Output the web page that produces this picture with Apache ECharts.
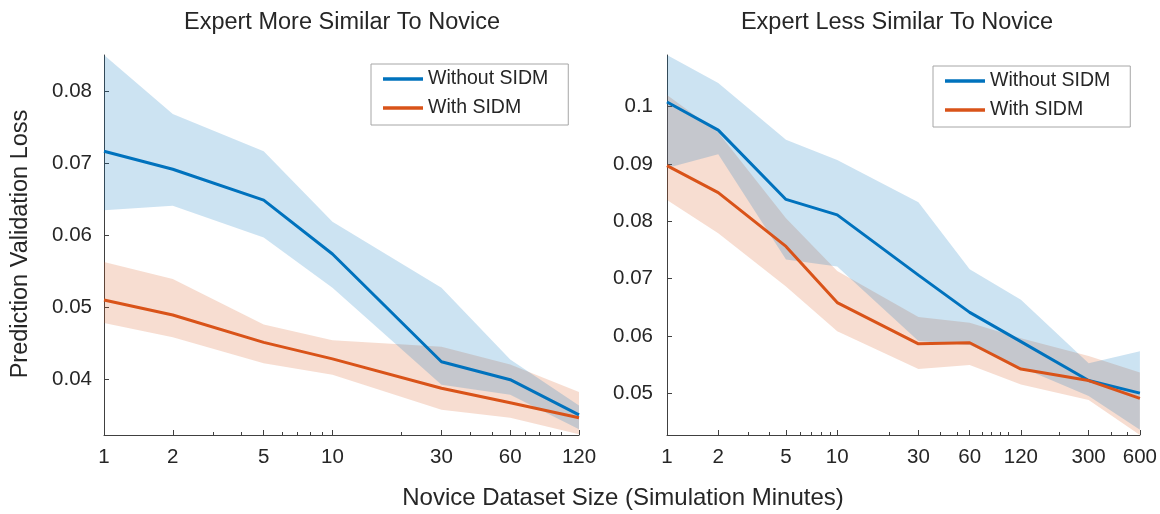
<!DOCTYPE html>
<html>
<head>
<meta charset="utf-8">
<script src="https://cdn.jsdelivr.net/npm/echarts@6/dist/echarts.min.js"></script>
<style>
  html, body { margin: 0; padding: 0; background: #fff; }
  #chart { width: 1160px; height: 514px; }
</style>
</head>
<body>
<div id="chart"></div>
<script>
// ---- Data ----
const xLeft = [1, 2, 5, 10, 30, 60, 120];
const withoutMeanL  = [0.0717, 0.0692, 0.0649, 0.0574, 0.0424, 0.0399, 0.0350];
const withoutUpperL = [0.0851, 0.0769, 0.0717, 0.0619, 0.0527, 0.0427, 0.0363];
const withoutLowerL = [0.0635, 0.0641, 0.0597, 0.0527, 0.0392, 0.0378, 0.0330];
const withMeanL     = [0.0510, 0.0489, 0.0451, 0.0428, 0.0387, 0.0367, 0.0346];
const withUpperL    = [0.0563, 0.0539, 0.0476, 0.0454, 0.0445, 0.0420, 0.0382];
const withLowerL    = [0.0478, 0.0458, 0.0422, 0.0406, 0.0357, 0.0346, 0.0323];

const xRight = [1, 2, 5, 10, 30, 60, 120, 300, 600];
const withoutMeanR  = [0.1008, 0.0959, 0.0838, 0.0811, 0.0706, 0.0641, 0.0590, 0.0522, 0.0500];
const withoutUpperR = [0.1090, 0.1041, 0.0942, 0.0907, 0.0833, 0.0716, 0.0663, 0.0552, 0.0573];
const withoutLowerR = [0.0893, 0.0917, 0.0733, 0.0721, 0.0591, 0.0584, 0.0545, 0.0495, 0.0436];
const withMeanR     = [0.0897, 0.0850, 0.0756, 0.0658, 0.0586, 0.0588, 0.0542, 0.0522, 0.0491];
const withUpperR    = [0.1020, 0.0955, 0.0805, 0.0713, 0.0633, 0.0623, 0.0596, 0.0565, 0.0536];
const withLowerR    = [0.0837, 0.0779, 0.0686, 0.0608, 0.0542, 0.0549, 0.0515, 0.0488, 0.0427];

// Tick values
const xMajorL = [1, 2, 5, 10, 30, 60, 120];
const xMinorL = [3, 4, 6, 7, 8, 9, 20, 40, 50, 70, 80, 90, 100];
const xMajorR = [1, 2, 5, 10, 30, 60, 120, 300, 600];
const xMinorR = [3, 4, 6, 7, 8, 9, 20, 40, 50, 70, 80, 90, 100, 200, 400, 500];
const yTicksL = [0.04, 0.05, 0.06, 0.07, 0.08];
const yTicksR = [0.05, 0.06, 0.07, 0.08, 0.09, 0.1];

const titles = ['Expert More Similar To Novice', 'Expert Less Similar To Novice'];
const xTitle = 'Novice Dataset Size (Simulation Minutes)';
const yTitle = 'Prediction Validation Loss';
const seriesNames = ['Without SIDM', 'With SIDM'];

// ---- Styling ----
const FONT = '"Liberation Sans", Arial, Helvetica, sans-serif';
const BLUE = '#0072BD', ORANGE = '#D95319';
const BLUE_FILL = 'rgba(0,114,189,0.2)', ORANGE_FILL = 'rgba(217,83,25,0.2)';
const AXIS = '#404040', TEXT = '#262626';

const grids = [
  { left: 104, right: 581, top: 55, bottom: 79 },
  { left: 667, right: 19, top: 55, bottom: 79 },
  { left: 104, right: 581, top: 55, bottom: 79 },
  { left: 667, right: 19, top: 55, bottom: 79 }
];

function majorX(gridIndex, max, ticks) {
  return {
    gridIndex, type: 'log', logBase: 10, min: 1, max,
    axisLine: { show: true, lineStyle: { color: AXIS, width: 1 } },
    axisTick: { show: true, inside: true, length: 5, customValues: ticks, lineStyle: { color: AXIS } },
    axisLabel: { customValues: ticks, formatter: v => String(Math.round(v)), fontSize: 20.5, fontFamily: FONT, color: TEXT, margin: 12 },
    splitLine: { show: false }, minorTick: { show: false }
  };
}
function minorX(gridIndex, max, ticks) {
  return {
    gridIndex, type: 'log', logBase: 10, min: 1, max,
    axisLine: { show: false },
    axisTick: { show: true, inside: true, length: 3, customValues: ticks, lineStyle: { color: AXIS } },
    axisLabel: { show: false, customValues: ticks },
    splitLine: { show: false }
  };
}
function mainY(gridIndex, min, max, ticks, margin) {
  return {
    gridIndex, type: 'value', min, max,
    axisLine: { show: true, lineStyle: { color: AXIS, width: 1 } },
    axisTick: { show: true, inside: true, length: 5, customValues: ticks, lineStyle: { color: AXIS } },
    axisLabel: { customValues: ticks, formatter: v => String(v), fontSize: 20.5, fontFamily: FONT, color: TEXT, margin },
    splitLine: { show: false }
  };
}
function hiddenY(gridIndex, min, max) {
  return { gridIndex, type: 'value', min, max, show: false, splitLine: { show: false } };
}

function band(name, axisIdx, xs, upper, lower, fill) {
  return {
    type: 'custom', name, xAxisIndex: axisIdx, yAxisIndex: axisIdx, silent: true, clip: true,
    data: [[xs[0], upper[0]]],
    encode: { x: 0, y: 1 },
    renderItem: function (params, api) {
      const pts = [];
      for (let i = 0; i < xs.length; i++) pts.push(api.coord([xs[i], upper[i]]));
      for (let i = xs.length - 1; i >= 0; i--) pts.push(api.coord([xs[i], lower[i]]));
      return { type: 'polygon', shape: { points: pts }, style: { fill, stroke: null } };
    },
    z: 1
  };
}
function line(name, axisIdx, xs, ys, color) {
  return {
    type: 'line', name, xAxisIndex: axisIdx, yAxisIndex: axisIdx,
    data: xs.map((x, i) => [x, ys[i]]),
    symbol: 'none', showSymbol: false, silent: true,
    lineStyle: { width: 3, color }, itemStyle: { color },
    z: 3
  };
}

function legendAt(left, top) {
  return {
    data: seriesNames, orient: 'vertical', left, top,
    icon: 'rect', itemWidth: 40, itemHeight: 3.5, itemGap: 7,
    padding: [4, 20, 6, 12],
    borderColor: '#a6a6a6', borderWidth: 1, backgroundColor: '#ffffff',
    selectedMode: false,
    textStyle: { fontSize: 19.5, fontFamily: FONT, color: TEXT, lineHeight: 22 }
  };
}

const chart = echarts.init(document.getElementById('chart'), null, { renderer: 'canvas' });
chart.setOption({
  backgroundColor: '#ffffff',
  animation: false,
  grid: grids,
  xAxis: [
    majorX(0, 120, xMajorL),
    majorX(1, 600, xMajorR),
    minorX(2, 120, xMinorL),
    minorX(3, 600, xMinorR)
  ],
  yAxis: [
    mainY(0, 0.0322, 0.0851, yTicksL, 12),
    mainY(1, 0.0427, 0.109, yTicksR, 14),
    hiddenY(2, 0.0322, 0.0851),
    hiddenY(3, 0.0427, 0.109)
  ],
  legend: [legendAt(371, 64), legendAt(933, 66)],
  series: [
    band('With SIDM range L', 0, xLeft, withUpperL, withLowerL, ORANGE_FILL),
    band('Without SIDM range L', 0, xLeft, withoutUpperL, withoutLowerL, BLUE_FILL),
    line(seriesNames[0], 0, xLeft, withoutMeanL, BLUE),
    line(seriesNames[1], 0, xLeft, withMeanL, ORANGE),
    band('With SIDM range R', 1, xRight, withUpperR, withLowerR, ORANGE_FILL),
    band('Without SIDM range R', 1, xRight, withoutUpperR, withoutLowerR, BLUE_FILL),
    line(seriesNames[0], 1, xRight, withoutMeanR, BLUE),
    line(seriesNames[1], 1, xRight, withMeanR, ORANGE)
  ],
  graphic: [
    { type: 'text', x: 342, y: 23, silent: true,
      style: { text: titles[0], font: '23.5px ' + FONT, fill: TEXT, align: 'center', verticalAlign: 'middle', textAlign: 'center', textVerticalAlign: 'middle' } },
    { type: 'text', x: 897, y: 23, silent: true,
      style: { text: titles[1], font: '23.5px ' + FONT, fill: TEXT, align: 'center', verticalAlign: 'middle', textAlign: 'center', textVerticalAlign: 'middle' } },
    { type: 'text', x: 623, y: 498, silent: true,
      style: { text: xTitle, font: '24px ' + FONT, fill: TEXT, align: 'center', verticalAlign: 'middle', textAlign: 'center', textVerticalAlign: 'middle' } },
    { type: 'text', x: 21, y: 244, rotation: Math.PI / 2, silent: true,
      style: { text: yTitle, font: '23.5px ' + FONT, fill: TEXT, align: 'center', verticalAlign: 'middle', textAlign: 'center', textVerticalAlign: 'middle' } }
  ]
});
</script>
</body>
</html>
